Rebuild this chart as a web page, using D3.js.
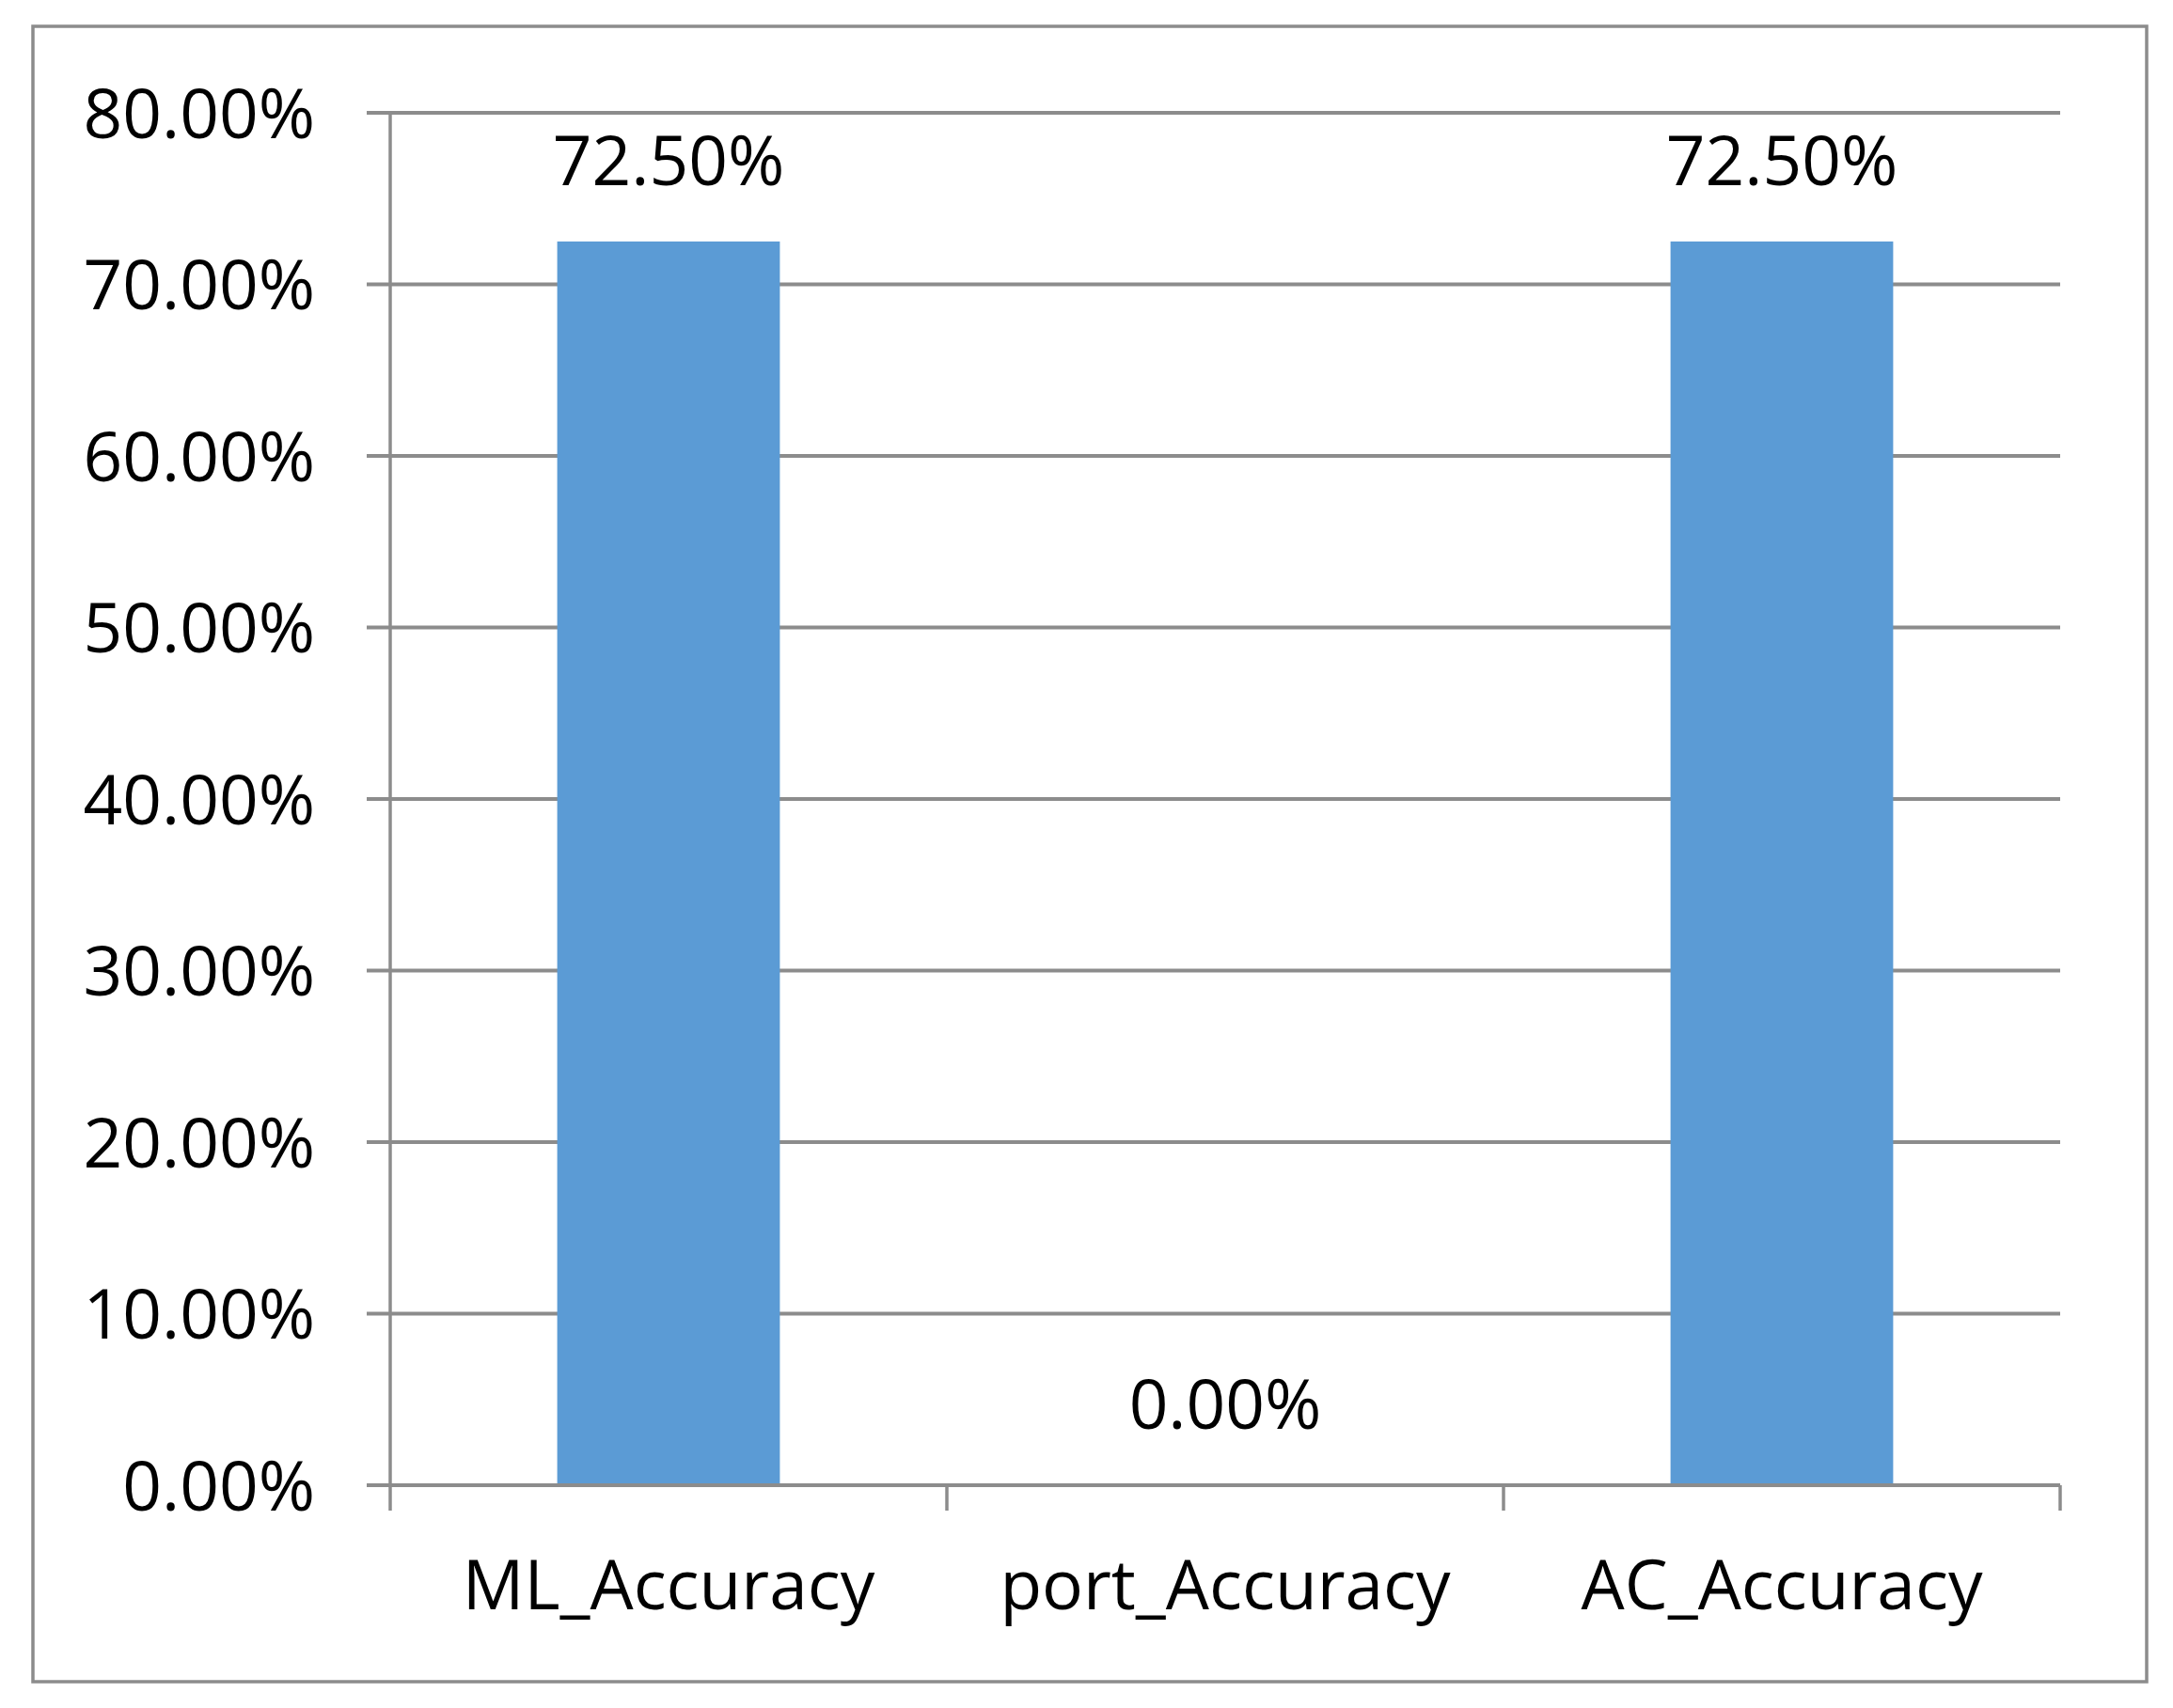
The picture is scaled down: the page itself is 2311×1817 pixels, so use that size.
<!DOCTYPE html>
<html>
<head>
<meta charset="utf-8">
<script src="https://cdn.jsdelivr.net/npm/d3@7"></script>
<style>
  body { margin: 0; background: #fff; }
  text { font-family: "Open Sans", sans-serif; fill: #000; }
</style>
</head>
<body>
<div id="chart"></div>
<script>
(() => {

  let categories = ["ML_Accuracy", "port_Accuracy", "AC_Accuracy"]
  let accuracy = [0.725, 0.0, 0.725]
  let y_ticks = [0, 0.1, 0.2, 0.3, 0.4, 0.5, 0.6, 0.7, 0.8]

  let data = categories.map((c, i) => ({name: c, value: accuracy[i]}))

  let W = 2311, H = 1817
  let margin = {top: 120, right: 120, bottom: 237, left: 415}
  let width = W - margin.left - margin.right
  let height = H - margin.top - margin.bottom
  let grid_color = "#8c8c8c"
  let font_size = 73

  let svg = d3.select("#chart")
  .append("svg")
  .attr("width", W)
  .attr("height", H)

  // chart area border
  svg.append("rect")
  .attr("x", 35)
  .attr("y", 28)
  .attr("width", 2283 - 35)
  .attr("height", 1789 - 28)
  .attr("fill", "none")
  .attr("stroke", grid_color)
  .attr("stroke-width", 3.5)

  let g = svg.append("g")
  .attr("transform", "translate(" + margin.left + "," + margin.top + ")")

  //X axis
  let x = d3.scaleBand()
  .range([0, width])
  .padding(0)
  x.domain(categories)

  //Y axis
  let y = d3.scaleLinear()
  .range([height, 0])
  y.domain([0, 0.8])

  let fmt = d => (d * 100).toFixed(2) + "%"

  // gridlines (stick out to the left like excel ticks)
  g.selectAll(".grid")
  .data(y_ticks)
  .enter()
  .append("line")
  .attr("class", "grid")
  .attr("x1", -25)
  .attr("x2", width)
  .attr("y1", d => y(d))
  .attr("y2", d => y(d))
  .attr("stroke", grid_color)
  .attr("stroke-width", 4)

  let y_axis = g.append("g")
  .call(d3.axisLeft(y).tickValues(y_ticks).tickFormat(fmt).tickSize(0).tickPadding(80))
  y_axis.select(".domain").remove()
  y_axis.selectAll("text")
  .attr("dy", "0.36em")
  .style("font-size", font_size + "px")
  .style("font-family", "'Open Sans', sans-serif")
  .attr("fill", "#000")

  // vertical axis line + category boundary ticks
  let bounds = categories.map(c => x(c)).concat([width])
  g.selectAll(".xtick")
  .data(bounds)
  .enter()
  .append("line")
  .attr("class", "xtick")
  .attr("x1", d => d)
  .attr("x2", d => d)
  .attr("y1", (d, i) => i == 0 ? y(0.8) : height)
  .attr("y2", height + 27)
  .attr("stroke", grid_color)
  .attr("stroke-width", 3.5)

  let bar_w = x.bandwidth() * 0.4

  g.selectAll(".bar")
  .data(data)
  .enter()
  .append("rect")
  .attr("class", "bar")
  .attr("x", d => x(d.name) + (x.bandwidth() - bar_w) / 2)
  .attr("width", bar_w)
  .attr("y", d => y(d.value))
  .attr("height", d => height - y(d.value))
  .attr("fill", "#5b9bd5")

  // redraw baseline on top of bars
  g.append("line")
  .attr("x1", -25)
  .attr("x2", width)
  .attr("y1", y(0))
  .attr("y2", y(0))
  .attr("stroke", grid_color)
  .attr("stroke-width", 4)

  g.selectAll(".bar_label")
  .data(data)
  .enter()
  .append("text")
  .attr("class", "bar_label")
  .attr("x", d => x(d.name) + x.bandwidth() / 2)
  .attr("y", d => y(d.value) - 60)
  .style("text-anchor", "middle")
  .style("font-size", font_size + "px")
  .text(d => fmt(d.value))

  let x_axis = g.append("g")
  .attr("transform", "translate(0," + height + ")")
  .call(d3.axisBottom(x).tickSize(0).tickPadding(80))
  x_axis.select(".domain").remove()
  x_axis.selectAll("text")
  .style("font-size", font_size + "px")
  .style("font-family", "'Open Sans', sans-serif")
  .attr("fill", "#000")

})()
</script>
</body>
</html>
